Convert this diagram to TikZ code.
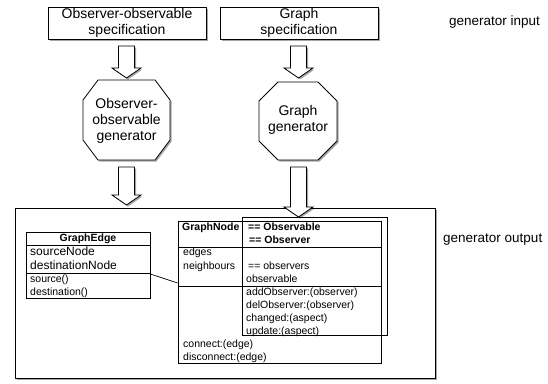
\documentclass[tikz,border=0pt]{standalone}
\usepackage{fontspec}
\setmainfont{Liberation Sans}
\usetikzlibrary{shadows,calc}
\tikzset{
  shad/.style={drop shadow={shadow xshift=1.5pt,shadow yshift=-1.5pt,opacity=0.35,fill=black}},
  specbox/.style={draw,fill=white,line width=0.8pt,minimum width=158pt,minimum height=32pt,
    align=center,inner sep=0pt,font=\fontsize{14}{16}\selectfont,shad},
  octshape/.style={draw,fill=white,line width=0.8pt,shad},
  octtext/.style={align=center,inner sep=0pt,font=\fontsize{14}{16}\selectfont},
  barrow/.style={draw,fill=white,line width=0.8pt,line join=miter,shad},
  outbox/.style={draw,fill=white,line width=0.8pt,inner sep=0pt,shad},
  umlbox/.style={draw,line width=0.7pt,inner sep=0pt},
  umlline/.style={line width=0.7pt},
  umltxt/.style={anchor=west,inner sep=0pt,font=\fontsize{10.5}{13}\selectfont,text height=7.5pt,text depth=2pt},
  umlbig/.style={anchor=west,inner sep=0pt,font=\fontsize{12}{14}\selectfont,text height=8.6pt,text depth=2.3pt},
  umlbold/.style={umltxt,font=\fontsize{10.5}{13}\selectfont\bfseries},
  sidelabel/.style={anchor=west,inner sep=0pt,font=\fontsize{13.5}{16}\selectfont},
}
\newcommand\blockarrow[2]{%
  \draw[barrow] ($(#1)+(-8,0)$) -- ($(#1)+(8,0)$) -- ($(#2)+(8,-10)$) -- ($(#2)+(14.5,-10)$)
    -- (#2) -- ($(#2)+(-14.5,-10)$) -- ($(#2)+(-8,-10)$) -- cycle;}
\begin{document}
\begin{tikzpicture}[x=1pt,y=-1pt]
\useasboundingbox (0,0) rectangle (548,383);

% generator input
\node[specbox] (s1) at (127,23) {Observer-observable\\specification};
\node[specbox] (s2) at (299,23) {Graph\\specification};
\node[sidelabel] (lin) at (449,22) {generator input};

% octagons
\draw[octshape] (83,100) -- (98,80) -- (155,80) -- (170,100) -- (170,140) -- (155,160) -- (98,160) -- (83,140) -- cycle;
\draw[octshape] (259,101) -- (278,82) -- (318,82) -- (337,101) -- (337,141) -- (318,160) -- (278,160) -- (259,141) -- cycle;
\node[octtext] (o1) at (126.5,121) {Observer-\\observable\\generator};
\node[octtext] (o2) at (298,120) {Graph\\generator};

% output box
\node[outbox,minimum width=420pt,minimum height=170pt] (out) at (225,293) {};
\node[sidelabel] (lout) at (443,240) {generator output};

% block arrows
\coordinate (a1s) at (126.5,46);
\coordinate (a1t) at (126.5,78);
\coordinate (a2s) at (298.5,46);
\coordinate (a2t) at (298.5,78);
\coordinate (a3s) at (126.5,167);
\coordinate (a3t) at (126.5,205);
\coordinate (a4s) at (298.5,167);
\coordinate (a4t) at (298.5,217);
\blockarrow{a1s}{a1t}
\blockarrow{a2s}{a2t}
\blockarrow{a3s}{a3t}
\blockarrow{a4s}{a4t}

% GraphEdge
\node[umlbox,minimum width=124pt,minimum height=66pt] (ge) at (88,265) {};
\draw[umlline] (26,245) -- (150,245);
\draw[umlline] (26,273) -- (150,273);
\node[inner sep=0pt,font=\fontsize{10.5}{13}\selectfont\bfseries] (get) at (88,238.5) {GraphEdge};
\node[umlbig] (ge1) at (30,252) {sourceNode};
\node[umlbig] (ge2) at (30,266) {destinationNode};
\node[umltxt] (ge3) at (30,280) {source()};
\node[umltxt] (ge4) at (30,293) {destination()};

% GraphNode
\node[umlbox,minimum width=203pt,minimum height=142pt] (gn) at (279.5,292) {};
\draw[umlline] (178,247) -- (381,247);
\draw[umlline] (178,286) -- (381,286);
% Observable / Observer overlay
\node[umlbox,minimum width=145pt,minimum height=118pt] (obs) at (314.5,276) {};

\node[umlbold] (gnt) at (182,228) {GraphNode};
\node[umlbold] (ob1) at (248,228) {== Observable};
\node[umlbold] (ob2) at (249,241) {== Observer};
\node[umltxt] (gn1) at (183,253) {edges};
\node[umltxt] (gn2) at (183,267) {neighbours};
\node[umltxt] (ob3) at (248,267) {== observers};
\node[umltxt] (ob4) at (246,279.5) {observable};
\node[umltxt] (ob5) at (246,292.5) {addObserver:(observer)};
\node[umltxt] (ob6) at (246,305.5) {delObserver:(observer)};
\node[umltxt] (ob7) at (246,318.5) {changed:(aspect)};
\node[umltxt] (ob8) at (246,331.5) {update:(aspect)};
\node[umltxt] (gn3) at (183,345) {connect:(edge)};
\node[umltxt] (gn4) at (183,358) {disconnect:(edge)};

% association
\draw[umlline] ([yshift=-9pt]ge.east) -- ([yshift=9pt]gn.west);
\end{tikzpicture}
\end{document}
